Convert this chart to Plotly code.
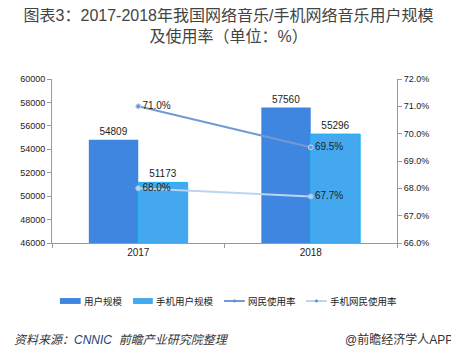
import plotly.graph_objects as go

years = ["2017", "2018"]
users = [54809, 57560]
mobile_users = [51173, 55296]
rate = [0.710, 0.695]
mobile_rate = [0.680, 0.677]
series_names = ["用户规模", "手机用户规模", "网民使用率", "手机网民使用率"]
colors = ["#3f86e0", "#44a8ee", "#7199d8", "#b9d5ef"]

FONT = "Liberation Sans, Arial, Noto Sans CJK SC, sans-serif"

fig = go.Figure()
fig.add_trace(go.Bar(
    x=years, y=users, name=series_names[0],
    marker=dict(color=colors[0], line=dict(width=0)),
    text=[str(v) for v in users], textposition="outside",
    textfont=dict(size=10, color="#222"), cliponaxis=False,
))
fig.add_trace(go.Bar(
    x=years, y=mobile_users, name=series_names[1],
    marker=dict(color=colors[1], line=dict(color="#19b2f2", width=1)),
    text=[str(v) for v in mobile_users], textposition="outside",
    textfont=dict(size=10, color="#222"), cliponaxis=False,
))
fig.add_trace(go.Scatter(
    x=years, y=rate, name=series_names[2], yaxis="y2", mode="lines+markers+text",
    line=dict(color=colors[2], width=2),
    marker=dict(size=5, color=colors[2], line=dict(color="#c8d8f0", width=1)),
    text=[f"{v*100:.1f}%" for v in rate], textposition="middle right",
    textfont=dict(size=10, color="#222"),
))
fig.add_trace(go.Scatter(
    x=years, y=mobile_rate, name=series_names[3], yaxis="y2", mode="lines+markers+text",
    line=dict(color=colors[3], width=2),
    marker=dict(size=5, color=colors[3], line=dict(color="#9ec2e8", width=1)),
    text=[f"{v*100:.1f}%" for v in mobile_rate], textposition="middle right",
    textfont=dict(size=10, color="#222"),
))

# custom legend (paper coordinates; pixel positions measured on screen)
L, W = 48, 349
def px(v):
    return (v - L) / W
ly = -0.3537
shapes = []
annotations = []
leg_items = [(56, 77, "bar"), (130, 150, "bar"), (222, 243, "line"), (305, 326, "line")]
for (x0, x1, kind), name, col in zip(leg_items, series_names, colors):
    if kind == "bar":
        shapes.append(dict(type="rect", xref="paper", yref="paper",
                           x0=px(x0), x1=px(x1), y0=ly - 0.018, y1=ly + 0.018,
                           fillcolor=col, line=dict(width=0)))
    else:
        shapes.append(dict(type="line", xref="paper", yref="paper",
                           x0=px(x0), x1=px(x1), y0=ly, y1=ly,
                           line=dict(color=col, width=2)))
        c = (x0 + x1) / 2
        shapes.append(dict(type="circle", xref="paper", yref="paper",
                           x0=px(c - 1.5), x1=px(c + 1.5), y0=ly - 0.009, y1=ly + 0.009,
                           fillcolor="#5b8fd8", line=dict(width=0)))
    annotations.append(dict(text=name, xref="paper", yref="paper", x=px(x1 + 1),
                            xanchor="left", y=ly, yanchor="middle", showarrow=False,
                            font=dict(size=9.5, color="#222")))

annotations += [
    dict(text="<i>资料来源：<span style='color:#243f78'>CNNIC</span>  前瞻产业研究院整理</i>",
         xref="paper", yref="paper",
         x=px(8), xanchor="left", y=-0.59, yanchor="middle", showarrow=False,
         font=dict(size=12, color="#333")),
    dict(text="@前瞻经济学人APP", xref="paper", yref="paper",
         x=px(456), xanchor="right", y=-0.59, yanchor="middle", showarrow=False,
         font=dict(size=12, color="#333")),
]

# the page body has an 8px margin, so the figure is 8px smaller and offset
fig.update_layout(
    width=451, height=350,
    margin=dict(l=40, r=62, t=71, b=115),
    paper_bgcolor="white", plot_bgcolor="white",
    font=dict(family=FONT, size=10, color="#333"),
    title=dict(
        text="图表3：2017-2018年我国网络音乐/手机网络音乐用户规模<br>及使用率（单位：%）",
        x=0.489, xanchor="center", y=0.963, yanchor="top",
        font=dict(size=16, color="#444", family=FONT),
    ),
    barmode="group", bargap=0.427, bargroupgap=0,
    showlegend=False,
    xaxis=dict(type="category", showline=True, linecolor="#999", linewidth=1,
               ticks="outside", tickson="boundaries", ticklen=4, tickcolor="#999",
               tickfont=dict(size=10, color="#222"), showgrid=False),
    yaxis=dict(range=[46000, 60000], dtick=2000, tickformat="d", showline=True, linecolor="#999",
               ticks="outside", ticklen=4, tickcolor="#999", showgrid=False,
               tickfont=dict(size=9, color="#222"), zeroline=False),
    yaxis2=dict(range=[0.66, 0.72], dtick=0.01, tickformat=".1%", overlaying="y",
                side="right", showline=True, linecolor="#999", ticks="outside",
                ticklen=4, tickcolor="#999", showgrid=False,
                tickfont=dict(size=9, color="#222"), zeroline=False),
    shapes=shapes,
    annotations=annotations,
)

fig.write_html("out.html")
